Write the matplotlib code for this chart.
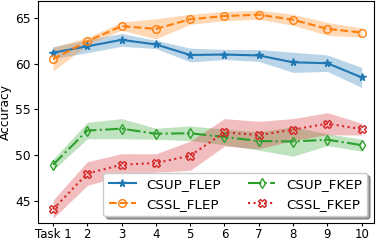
import matplotlib
matplotlib.use("Agg")
import matplotlib.pyplot as plt
import numpy as np

tasks = [1, 2, 3, 4, 5, 6, 7, 8, 9, 10]
tick_labels = ["Task 1", "2", "3", "4", "5", "6", "7", "8", "9", "10"]

csup_flep = [61.2, 61.9, 62.6, 62.1, 60.95, 61.0, 60.9, 60.15, 60.05, 58.5]
csup_flep_std = [0.65, 0.7, 0.7, 0.45, 0.75, 0.55, 0.65, 1.1, 0.9, 1.1]

cssl_flep = [60.5, 62.45, 64.1, 63.8, 64.85, 65.2, 65.35, 64.8, 63.8, 63.4]
cssl_flep_std = [1.3, 0.4, 0.45, 1.1, 0.55, 0.5, 0.5, 0.6, 0.7, 0.5]

csup_fkep = [48.97, 52.7, 52.9, 52.35, 52.4, 52.0, 51.55, 51.5, 51.7, 51.1]
csup_fkep_std = [0.6, 0.9, 1.1, 0.6, 0.8, 0.85, 1.0, 1.6, 0.65, 0.65]

cssl_fkep = [44.1, 48.0, 48.97, 49.15, 49.95, 52.5, 52.2, 52.8, 53.45, 52.85]
cssl_fkep_std = [1.0, 1.3, 1.2, 1.0, 1.6, 1.5, 1.5, 1.2, 1.2, 0.65]

series = [
    ("CSUP_FLEP", csup_flep, csup_flep_std, "#1f77b4", "-", "*", {}),
    ("CSSL_FLEP", cssl_flep, cssl_flep_std, "#ff7f0e", "--", "o", {"mfc": "none"}),
    ("CSUP_FKEP", csup_fkep, csup_fkep_std, "#2ca02c", "-.", "d", {"mfc": "none"}),
    ("CSSL_FKEP", cssl_fkep, cssl_fkep_std, "#d62728", ":", "X", {"mfc": "none"}),
]

fig = plt.figure(figsize=(3.78, 2.42), dpi=100)
ax = fig.add_axes([38.3 / 378, 1 - 223 / 242, (374 - 38.3) / 378, 222.5 / 242])

x = np.array(tasks)
for name, m, s, c, ls, mk, kw in series:
    m = np.array(m); s = np.array(s)
    ax.fill_between(x, m - s, m + s, color=c, alpha=0.3, linewidth=0)
    ax.plot(x, m, color=c, linestyle=ls, marker=mk, markersize=5.5, linewidth=1.5,
            label=name, **kw)

ax.set_xlim(0.57, 10.36)
ax.set_ylim(42.6, 66.9)
ax.set_xticks(tasks)
ax.set_xticklabels(tick_labels)
ax.set_yticks([45, 50, 55, 60, 65])
ax.tick_params(axis="x", labelsize=8.5, length=2.5, pad=1)
ax.tick_params(axis="y", labelsize=8.8, length=3, pad=2.5)
ax.set_ylabel("Accuracy", fontsize=8.8, labelpad=2)
leg = ax.legend(loc="lower right", ncol=2, shadow=True, fontsize=9.7)
leg.get_frame().set_edgecolor("#cccccc")

fig.savefig("out.png", dpi=100)
